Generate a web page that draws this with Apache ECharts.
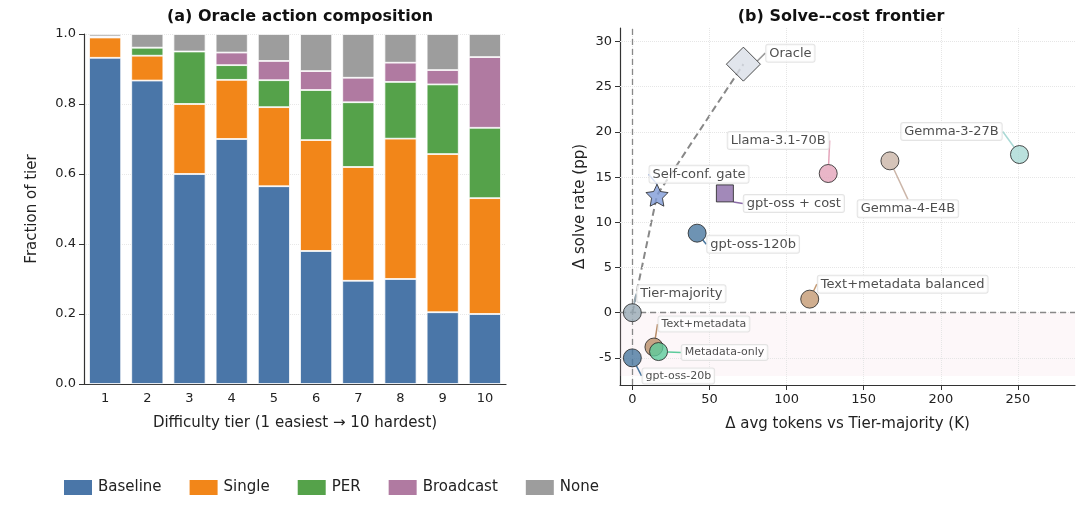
<!DOCTYPE html>
<html><head><meta charset="utf-8">
<script src="https://cdn.jsdelivr.net/npm/echarts@6/dist/echarts.min.js"></script>
<style>html,body{margin:0;padding:0;background:#fff}#c{width:1080px;height:505px}</style>
</head><body><div id="c"></div>
<script>
const tiers = ['1','2','3','4','5','6','7','8','9','10'];
const baseline = [0.932,0.867,0.600,0.700,0.565,0.380,0.295,0.300,0.205,0.200];
const single   = [0.058,0.071,0.200,0.169,0.226,0.317,0.325,0.401,0.452,0.331];
const per      = [0.000,0.023,0.150,0.042,0.077,0.143,0.185,0.162,0.199,0.201];
const broadcast= [0.003,0.000,0.000,0.036,0.055,0.054,0.070,0.055,0.041,0.202];
const none     = [0.007,0.039,0.050,0.053,0.077,0.106,0.125,0.082,0.103,0.066];

const ptNames = ['Oracle','Llama-3.1-70B','Gemma-3-27B','Gemma-4-E4B','Self-conf. gate','gpt-oss + cost','gpt-oss-120b','Text+metadata balanced','Tier-majority','Text+metadata','Metadata-only','gpt-oss-20b'];
const ptX = [72,127,251,167,16,60,42,115,0,14,17,0];
const ptY = [27.5,15.4,17.5,16.8,13.0,13.2,8.8,1.5,0,-3.8,-4.3,-5.0];
const frontier = ['Tier-majority','Self-conf. gate','Oracle'];

const ptColor = ['#d9dee7','#e4a4ba','#a9d9d5','#cbb5a8','#7f9bd8','#8b6ca7','#4a78a0','#c49a73','#97a9b4','#b98d68','#5ccb9b','#4a78a0'];
const ptSymbol = ['diamond','circle','circle','circle','path://M0,-10 L2.9,-4 L9.5,-3.1 L4.7,1.5 L5.9,8.1 L0,5 L-5.9,8.1 L-4.7,1.5 L-9.5,-3.1 L-2.9,-4 Z','rect','circle','circle','circle','circle','circle','circle'];
const ptSize = [34,18,18,18,22,17,18,18,18,18,18,18];
const lblOff = [[47,-11],[-50,-33],[-68,-23],[18,48],[42,-21],[69,10],[56,11],[93,-15],[49,-19],[50,-23],[66,1],[46,18]];
const lblSize = [13,13,13,13,13,13,13,13,13,11,11,11];

const font = 'DejaVu Sans';
const cols = {Baseline:'#4a76a8',Single:'#f28619',PER:'#55a24a',Broadcast:'#b07aa1',None:'#9d9d9d'};
const barSeries = [['Baseline',baseline],['Single',single],['PER',per],['Broadcast',broadcast],['None',none]].map(([n,d])=>({
  name:n,type:'bar',stack:'a',data:d,barWidth:'76%',xAxisIndex:0,yAxisIndex:0,
  itemStyle:{color:cols[n],borderColor:'#fff',borderWidth:0.8}
}));

const scatterData = ptNames.map((n,i)=>({name:n,value:[ptX[i],ptY[i]],symbol:ptSymbol[i],symbolSize:ptSize[i],
  itemStyle:{color:ptColor[i],borderColor:'#222',borderWidth:1},
  label:{fontSize:lblSize[i]},labelLine:{lineStyle:{color:ptColor[i]===('#d9dee7')?'#999':ptColor[i],width:1.5}}}));
const frontData = frontier.map(n=>{const i=ptNames.indexOf(n);return [ptX[i],ptY[i]];});

const axisTxt = {color:'#222',fontFamily:font,fontSize:13};
const chart = echarts.init(document.getElementById('c'));
chart.setOption({
  animation:false,
  textStyle:{fontFamily:font},
  title:[
    {text:'(a) Oracle action composition',left:295,top:4,textAlign:'center',textStyle:{fontSize:16,fontWeight:'bold',fontFamily:font,color:'#111'}},
    {text:'(b) Solve--cost frontier',left:836,top:4,textAlign:'center',textStyle:{fontSize:16,fontWeight:'bold',fontFamily:font,color:'#111'}}
  ],
  legend:{data:['Baseline','Single','PER','Broadcast','None'],left:57,top:473,itemWidth:30,itemHeight:17,itemGap:26,
    icon:'rect',textStyle:{fontSize:15,fontFamily:font,color:'#222'}},
  grid:[{left:84,right:574,top:34,bottom:121},{left:620,right:5,top:28,bottom:120}],
  xAxis:[
    {type:'category',data:tiers,gridIndex:0,axisLine:{lineStyle:{color:'#333',width:1.2}},axisTick:{alignWithLabel:true,lineStyle:{color:'#333'}},
     axisLabel:axisTxt,name:'Difficulty tier (1 easiest → 10 hardest)',nameLocation:'middle',nameGap:32,nameTextStyle:{fontSize:15,color:'#222',fontFamily:font}},
    {type:'value',gridIndex:1,min:-8,max:287,interval:50,axisLine:{onZero:false,lineStyle:{color:'#333',width:1.2}},axisTick:{show:true,lineStyle:{color:'#333'}},
     axisLabel:{...axisTxt,customValues:[0,50,100,150,200,250]},axisTick:{show:true,customValues:[0,50,100,150,200,250]},
     splitLine:{show:false},
     name:'Δ avg tokens vs Tier-majority (K)',nameLocation:'middle',nameGap:32,nameTextStyle:{fontSize:15,color:'#222',fontFamily:font}}
  ],
  yAxis:[
    {type:'value',gridIndex:0,min:0,max:1,interval:0.2,axisLine:{show:true,lineStyle:{color:'#333',width:1.2}},axisTick:{show:true},
     axisLabel:{...axisTxt,formatter:v=>v.toFixed(1)},splitLine:{show:true,lineStyle:{color:'#e8e8e8',type:'dotted'}},
     name:'Fraction of tier',nameLocation:'middle',nameGap:44,nameTextStyle:{fontSize:15,color:'#222',fontFamily:font}},
    {type:'value',gridIndex:1,min:-8,max:31.5,axisLine:{onZero:false,show:true,lineStyle:{color:'#333',width:1.2}},
     axisLabel:{...axisTxt,customValues:[-5,0,5,10,15,20,25,30]},axisTick:{show:true,customValues:[-5,0,5,10,15,20,25,30]},
     splitLine:{show:false},
     name:'Δ solve rate (pp)',nameLocation:'middle',nameGap:32,nameTextStyle:{fontSize:15,color:'#222',fontFamily:font}}
  ],
  series:[...barSeries,
    {type:'line',xAxisIndex:1,yAxisIndex:1,data:[],silent:true,
     markLine:{silent:true,symbol:'none',label:{show:false},lineStyle:{color:'#e6e6e6',type:'dotted',width:1},
       data:[-5,0,5,10,15,20,25,30].map(v=>({yAxis:v})).concat([0,50,100,150,200,250].map(v=>({xAxis:v})))}},
    {type:'line',xAxisIndex:1,yAxisIndex:1,data:[],silent:true,
     markArea:{silent:true,itemStyle:{color:'rgba(240,200,215,0.15)'},data:[[{xAxis:-8,yAxis:-7},{xAxis:287,yAxis:0}]]},
     markLine:{silent:true,symbol:'none',label:{show:false},lineStyle:{color:'#888',type:[6,4],width:1.3},data:[{xAxis:0},{yAxis:0}]}},
    {type:'line',xAxisIndex:1,yAxisIndex:1,data:frontData,symbol:'none',silent:true,
     lineStyle:{color:'#888',type:[7,4],width:2}},
    {type:'scatter',xAxisIndex:1,yAxisIndex:1,data:scatterData,z:5,
     label:{show:true,formatter:p=>p.name,position:'inside',color:'#222',fontFamily:font,backgroundColor:'rgba(255,255,255,0.9)',
       borderColor:'#ddd',borderWidth:1,borderRadius:2,padding:[2,3]},
     labelLine:{show:true},
     labelLayout:p=>({dx:lblOff[p.dataIndex][0],dy:lblOff[p.dataIndex][1]})}
  ]
});
</script></body></html>
